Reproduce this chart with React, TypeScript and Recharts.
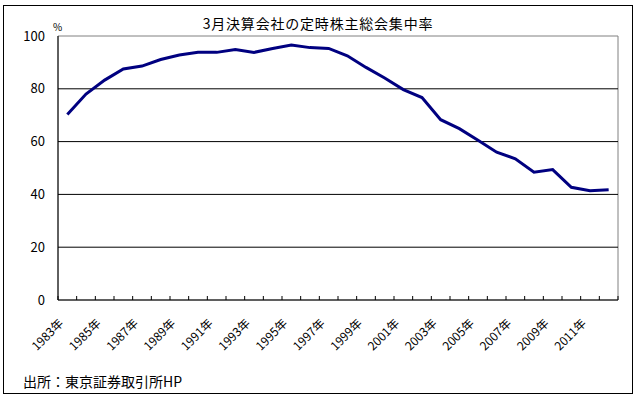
import { LineChart, Line, XAxis, YAxis, ReferenceLine, ReferenceArea } from "recharts";

const years = [
  1983, 1984, 1985, 1986, 1987, 1988, 1989, 1990, 1991, 1992, 1993, 1994, 1995, 1996, 1997,
  1998, 1999, 2000, 2001, 2002, 2003, 2004, 2005, 2006, 2007, 2008, 2009, 2010, 2011, 2012,
];

// 集中率 (%)
const rates = [
  70.3, 78.0, 83.3, 87.5, 88.6, 91.1, 92.8, 93.8, 93.8, 94.9, 93.8, 95.3, 96.6, 95.6, 95.3,
  92.5, 88.1, 84.1, 79.7, 76.7, 68.3, 64.9, 60.5, 56.0, 53.5, 48.4, 49.4, 42.7, 41.4, 41.8,
];

const labelYears = [1983, 1985, 1987, 1989, 1991, 1993, 1995, 1997, 1999, 2001, 2003, 2005, 2007, 2009, 2011];
const yTicks = [0, 20, 40, 60, 80, 100];
const gridValues = [20, 40, 60, 80];

const font = '"Noto Sans CJK JP", sans-serif';

const data = years.map((year, i) => ({ i, year, rate: rates[i] }));
const boundaryTicks = years.map((_, i) => i - 0.5).concat(years.length - 0.5);
const labelTicks = labelYears.map((y) => years.indexOf(y));

function YearTick({ x, y, payload }: any) {
  const ax = x - 3;
  const ay = y + 24;
  return (
    <text
      x={ax}
      y={ay}
      transform={`rotate(-45, ${ax}, ${ay})`}
      textAnchor="end"
      fontSize={12}
      fontFamily={font}
      fill="#000"
    >
      {years[payload.value]}年
    </text>
  );
}

// tick marks only, no text
function BlankTick() {
  return <g />;
}

export default function App() {
  return (
    <div style={{ position: "absolute", left: 0, top: 0, width: 636, height: 396, background: "#fff", fontFamily: font }}>
      <div
        style={{
          position: "absolute",
          left: 3,
          top: 5,
          width: 630,
          height: 389,
          border: "1px solid #000",
          boxSizing: "border-box",
        }}
      />
      <div
        style={{
          position: "absolute",
          left: 0,
          top: 16,
          width: 636,
          textAlign: "center",
          fontSize: 14,
          lineHeight: "14px",
          letterSpacing: 0.8,
        }}
      >
        3月決算会社の定時株主総会集中率
      </div>
      <div style={{ position: "absolute", left: 53, top: 22, fontSize: 10, lineHeight: "10px" }}>%</div>
      <div style={{ position: "absolute", left: 23, top: 374, fontSize: 14, lineHeight: "14px" }}>
        出所：東京証券取引所HP
      </div>
      <div style={{ position: "absolute", left: 0, top: 0 }}>
        <LineChart width={636} height={396} data={data} margin={{ top: 36, right: 18, bottom: 37, left: 0 }}>
          <ReferenceArea
            xAxisId="lab"
            x1={-0.5}
            x2={29.5}
            y1={0}
            y2={100}
            fill="none"
            stroke="#808080"
            strokeWidth={1}
          />
          {gridValues.map((v) => (
            <ReferenceLine key={v} xAxisId="lab" y={v} stroke="#000" strokeWidth={1} />
          ))}
          <XAxis
            xAxisId="tk"
            type="number"
            dataKey="i"
            domain={[-0.5, 29.5]}
            allowDataOverflow
            ticks={boundaryTicks}
            interval={0}
            height={1}
            mirror
            tickSize={4}
            tickMargin={0}
            stroke="#000"
            tickLine={{ stroke: "#000" }}
            axisLine={{ stroke: "#000" }}
            tick={<BlankTick />}
          />
          <XAxis
            xAxisId="lab"
            type="number"
            dataKey="i"
            domain={[-0.5, 29.5]}
            allowDataOverflow
            ticks={labelTicks}
            interval={0}
            height={59}
            tickSize={0}
            tickMargin={0}
            axisLine={false}
            tickLine={false}
            tick={<YearTick />}
          />
          <YAxis
            domain={[0, 100]}
            ticks={yTicks}
            interval={0}
            width={58}
            tickSize={0}
            tickMargin={13}
            tickLine={false}
            axisLine={{ stroke: "#000" }}
            tick={{ fill: "#000", fontSize: 13, fontFamily: font }}
          />
          <Line
            xAxisId="lab"
            type="linear"
            dataKey="rate"
            stroke="#000080"
            strokeWidth={3}
            dot={false}
            isAnimationActive={false}
          />
        </LineChart>
      </div>
    </div>
  );
}
